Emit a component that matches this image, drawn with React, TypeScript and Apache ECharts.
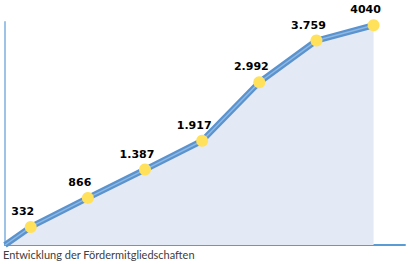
import React, { useEffect, useRef } from "react";
import * as echarts from "echarts";

const labels = ["332", "866", "1.387", "1.917", "2.992", "3.759", "4040"];
const values = [332, 866, 1387, 1917, 2992, 3759, 4040];
const originValue = 0;
const title = "Entwicklung der Fördermitgliedschaften";

export default function App() {
  const ref = useRef<HTMLDivElement>(null);
  useEffect(() => {
    const chart = echarts.init(ref.current!, undefined, { renderer: "svg" });
    const pts: any[] = [[0, originValue]];
    values.forEach((v, i) => pts.push([i + 0.45, v]));
    const markerPts = values.map((v, i) => ({ value: [i + 0.45, v], label: labels[i] }));
    chart.setOption({
      animation: false,
      grid: { left: 5, right: 3, top: 22, bottom: 19, containLabel: false },
      xAxis: {
        type: "value",
        min: 0,
        max: 7,
        axisLine: { show: true, lineStyle: { color: "#5b9bd5", width: 2 } },
        axisTick: { show: false },
        axisLabel: { show: false },
        splitLine: { show: false },
      },
      yAxis: {
        type: "value",
        min: 0,
        max: 4100,
        axisLine: { show: true, lineStyle: { color: "#9dc3e6", width: 2 } },
        axisTick: { show: false },
        axisLabel: { show: false },
        splitLine: { show: false },
      },
      series: [
        {
          type: "line",
          data: pts,
          symbol: "none",
          lineStyle: { color: "#5b93cf", width: 6 },
          areaStyle: { color: "#e3e9f5", opacity: 1 },
          z: 2,
        },
        {
          type: "line",
          data: pts,
          symbol: "none",
          lineStyle: { color: "#8db8e2", width: 1.5 },
          z: 3,
        },
        {
          type: "scatter",
          data: markerPts,
          symbol: "circle",
          symbolSize: 12,
          itemStyle: { color: "#ffe15c", opacity: 1 },
          z: 4,
          label: {
            show: true,
            position: "top",
            offset: [-8, 1],
            formatter: (p: any) => p.data.label,
            color: "#000000",
            fontWeight: "bold",
            fontSize: 11,
            fontFamily: "'DejaVu Sans', sans-serif",
          },
        },
      ],
      graphic: [
        {
          type: "text",
          left: 3,
          top: 249,
          style: {
            text: title,
            fill: "#404040",
            fontSize: 11,
            fontFamily: "Lato, sans-serif",
          },
        },
      ],
    });
    return () => chart.dispose();
  }, []);
  return <div ref={ref} style={{ width: 408, height: 264, position: "absolute", left: 0, top: 0 }} />;
}
